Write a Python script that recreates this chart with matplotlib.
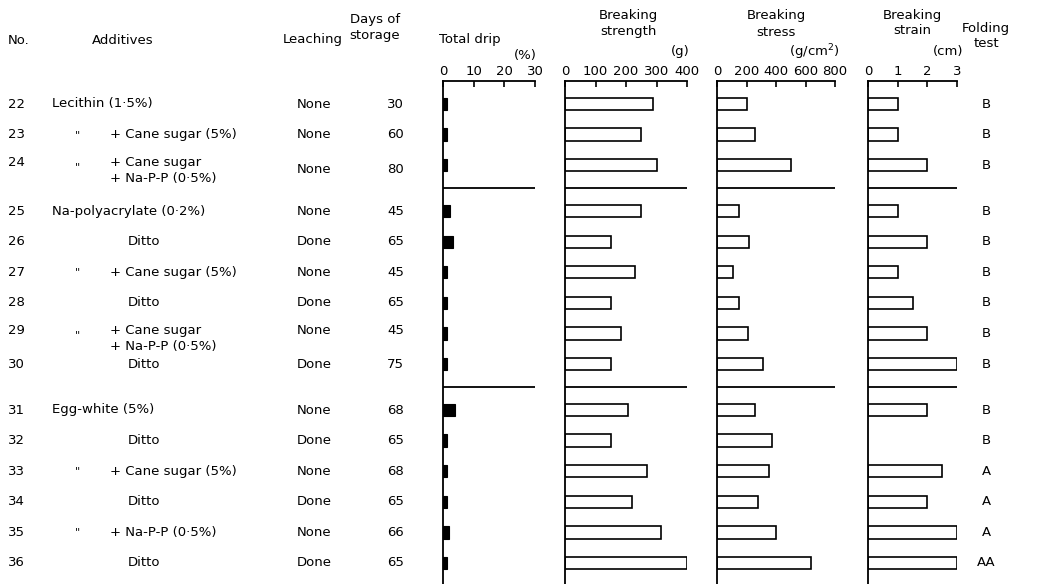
import matplotlib.pyplot as plt

# table data
nos = [22, 23, 24, 25, 26, 27, 28, 29, 30, 31, 32, 33, 34, 35, 36]
additives = ["Lecithin (1·5%)", "+ Cane sugar (5%)", "+ Cane sugar\n+ Na-P-P (0·5%)",
             "Na-polyacrylate (0·2%)", "Ditto", "+ Cane sugar (5%)", "Ditto",
             "+ Cane sugar\n+ Na-P-P (0·5%)", "Ditto",
             "Egg-white (5%)", "Ditto", "+ Cane sugar (5%)", "Ditto",
             "+ Na-P-P (0·5%)", "Ditto"]
groups = [0, 0, 0, 1, 1, 1, 1, 1, 1, 2, 2, 2, 2, 2, 2]
leaching = ["None", "None", "None", "None", "Done", "None", "Done", "None", "Done",
            "None", "Done", "None", "Done", "None", "Done"]
days = [30, 60, 80, 45, 65, 45, 65, 45, 75, 68, 65, 68, 65, 66, 65]
drip = [1.2, 1.2, 1.2, 2.3, 3.2, 1.2, 1.2, 1.2, 1.2, 3.9, 1.2, 1.2, 1.2, 2.0, 1.2]
strength = [290, 250, 300, 250, 150, 230, 150, 185, 150, 205, 150, 270, 220, 315, 400]
stress = [200, 260, 500, 150, 220, 110, 150, 210, 310, 260, 370, 350, 280, 400, 640]
strain = [1.0, 1.0, 2.0, 1.0, 2.0, 1.0, 1.5, 2.0, 3.0, 2.0, None, 2.5, 2.0, 3.0, 3.0]
folding = ["B", "B", "B", "B", "B", "B", "B", "B", "B", "B", "B", "A", "A", "A", "AA"]

W, H = 1037, 584
ROW0, ROWH = 104, 30.6   # pixel of first row and row pitch


def py(p):
    # pixel y -> row units
    return (p - ROW0) / ROWH


pos = [i + 0.5 * g for i, g in enumerate(groups)]
seps = [2.75, 9.25]

plt.rcParams['font.family'] = 'DejaVu Sans'
fs = 9.5
fig = plt.figure(figsize=(W / 100, H / 100), dpi=100)

# background axes for the text columns: x in pixels, y in rows
bg = fig.add_axes([0, 0, 1, 1])
bg.set_xlim(0, W)
bg.set_ylim(py(H), py(0))
bg.axis('off')

bg.text(8, py(40), "No.", va='center', fontsize=fs)
bg.text(123, py(40), "Additives", ha='center', va='center', fontsize=fs)
bg.text(313, py(40), "Leaching", ha='center', va='center', fontsize=fs)
bg.text(375, py(28), "Days of\nstorage", ha='center', va='center', fontsize=fs, linespacing=1.3)
bg.text(470, py(40), "Total drip", ha='center', va='center', fontsize=fs)
bg.text(537, py(56), "(%)", ha='right', va='center', fontsize=fs)
bg.text(628, py(24), "Breaking\nstrength", ha='center', va='center', fontsize=fs, linespacing=1.3)
bg.text(690, py(52), "(g)", ha='right', va='center', fontsize=fs)
bg.text(776, py(24), "Breaking\nstress", ha='center', va='center', fontsize=fs, linespacing=1.3)
bg.text(840, py(52), "(g/cm$^2$)", ha='right', va='center', fontsize=fs)
bg.text(912, py(23), "Breaking\nstrain", ha='center', va='center', fontsize=fs, linespacing=1.3)
bg.text(963, py(52), "(cm)", ha='right', va='center', fontsize=fs)
bg.text(986, py(36), "Folding\ntest", ha='center', va='center', fontsize=fs, linespacing=1.15)

for k in range(len(nos)):
    y = pos[k]
    a = additives[k]
    two = "\n" in a
    ytop = y - 0.1 if two else y
    bg.text(8, ytop, str(nos[k]), va='center', fontsize=fs)
    if a.startswith("+"):
        bg.text(78, y + (0.05 if two else 0), "\"", va='center', ha='center', fontsize=8)
        if two:
            l1, l2 = a.split("\n")
            bg.text(110, y - 0.1, l1, va='center', fontsize=fs)
            bg.text(110, y + 0.42, l2, va='center', fontsize=fs)
        else:
            bg.text(110, y, a, va='center', fontsize=fs)
    elif a == "Ditto":
        bg.text(128, y, a, va='center', fontsize=fs)
    else:
        bg.text(52, y, a, va='center', fontsize=fs)
    # row 24 centres leaching/days between its two lines, row 29 does not
    yl = y + 0.15 if (two and k == 2) else ytop
    bg.text(314, yl, leaching[k], ha='center', va='center', fontsize=fs)
    bg.text(404, yl, str(days[k]), ha='right', va='center', fontsize=fs)
    bg.text(986, y, folding[k], ha='center', va='center', fontsize=fs)

# bar panels
panels = [
    (443, 535, 30, [0, 10, 20, 30], drip, True),
    (565, 687, 400, [0, 100, 200, 300, 400], strength, False),
    (717, 835, 800, [0, 200, 400, 600, 800], stress, False),
    (868, 957, 3, [0, 1, 2, 3], strain, False),
]
top_px = 81
for x0, x1, vmax, ticks, vals, filled in panels:
    ax = fig.add_axes([x0 / W, 0, (x1 - x0) / W, (H - top_px) / H])
    ax.set_xlim(0, vmax)
    ax.set_ylim(py(H), py(top_px))
    ax.set_zorder(2)
    ax.patch.set_alpha(0)
    for s in ['right', 'bottom']:
        ax.spines[s].set_visible(False)
    for s in ['top', 'left']:
        ax.spines[s].set_linewidth(1.3)
    ax.xaxis.tick_top()
    ax.set_xticks(ticks)
    ax.set_xticklabels([str(t) for t in ticks])
    ax.tick_params(axis='x', direction='in', length=4, width=1.2, pad=2, labelsize=fs)
    ax.set_yticks([])
    ys = [p for p, v in zip(pos, vals) if v is not None]
    vs = [v for v in vals if v is not None]
    if filled:
        ax.barh(ys, vs, height=0.4, color='black', edgecolor='black', linewidth=0.8)
    else:
        ax.barh(ys, vs, height=0.4, facecolor='white', edgecolor='black', linewidth=1.2)
    for s in seps:
        ax.axhline(s, color='black', linewidth=1.3)

fig.savefig("out.png", dpi=100)
